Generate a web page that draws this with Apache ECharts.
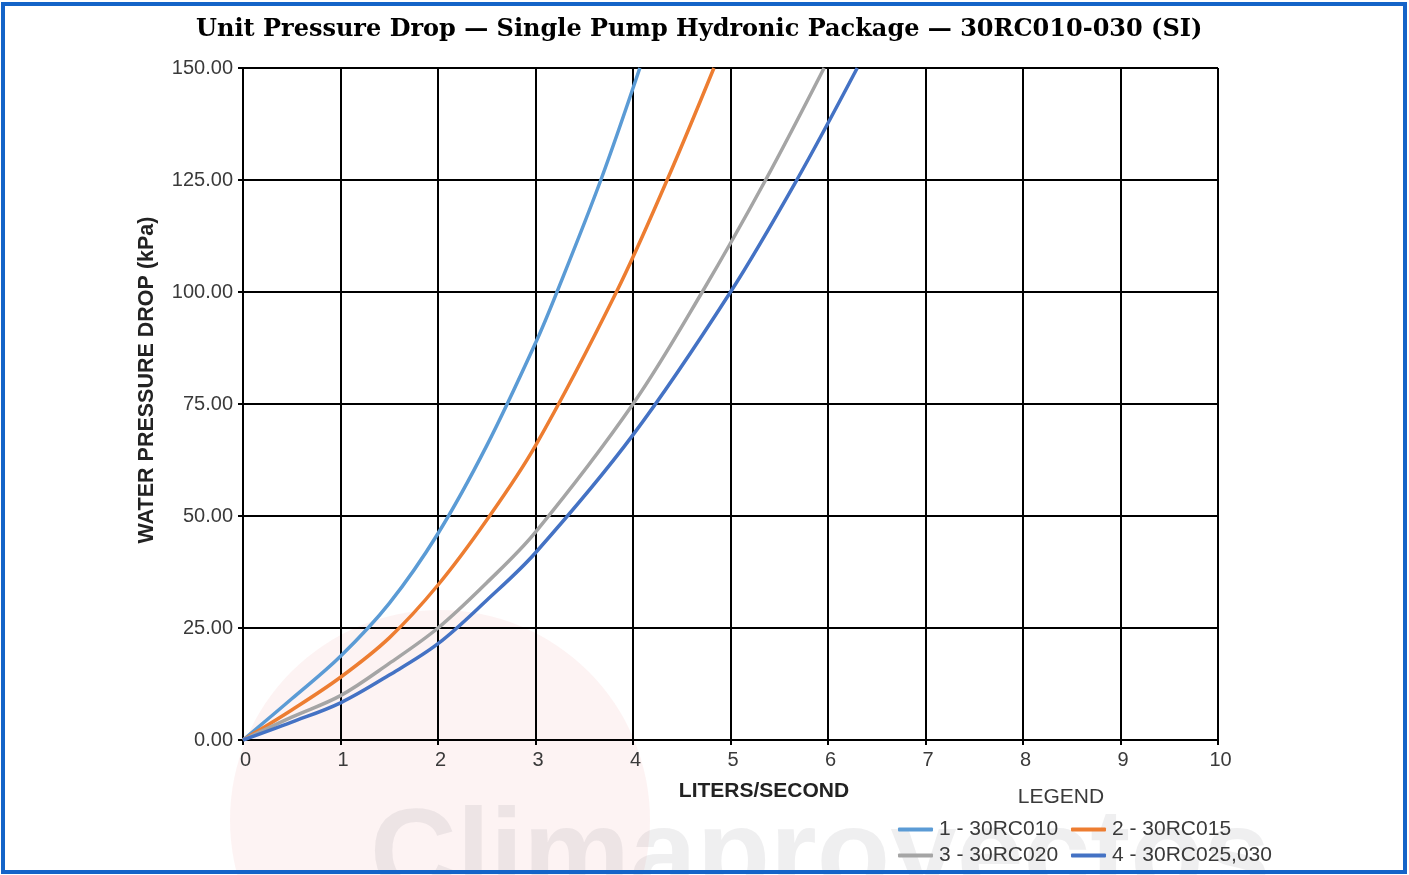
<!DOCTYPE html>
<html>
<head>
<meta charset="utf-8">
<script src="https://cdn.jsdelivr.net/npm/echarts@6/dist/echarts.min.js"></script>
<style>
html,body{margin:0;padding:0;background:#fff;}
#chart{width:1409px;height:875px;}
</style>
</head>
<body>
<div id="chart"></div>
<script>
// ---- Data ----
const seriesNames = ['1 - 30RC010', '2 - 30RC015', '3 - 30RC020', '4 - 30RC025,030'];
// flow (L/s) and pressure drop (kPa) for each unit
const flow1 = [0, 0.5, 1, 1.5, 2, 2.5, 3, 3.22, 3.67, 4.07];
const drop1 = [0, 9.2, 18.7, 30.5, 46.1, 65.7, 88.6, 100, 125, 150];
const flow2 = [0, 0.5, 1, 1.5, 2, 2.5, 3, 3.83, 4.35, 4.83];
const drop2 = [0, 6.7, 14, 22.8, 34.6, 49.1, 65.7, 100, 125, 150];
const flow3 = [0, 0.5, 1, 1.5, 2, 2.5, 3, 4, 4.71, 5.36, 5.96];
const drop3 = [0, 5.1, 9.9, 17.1, 25, 35.1, 46.4, 75, 100, 125, 150];
const flow4 = [0, 0.5, 1, 1.5, 2, 2.5, 3, 4, 5, 5.68, 6.3];
const drop4 = [0, 4, 8.3, 14.5, 21.5, 31.2, 41.8, 68.1, 100, 125, 150];
const xTicks = [0, 1, 2, 3, 4, 5, 6, 7, 8, 9, 10];
const yTicks = [0, 25, 50, 75, 100, 125, 150];
const colors = ['#5B9BD5', '#ED7D31', '#A5A5A5', '#4472C4'];

const flows = [flow1, flow2, flow3, flow4];
const drops = [drop1, drop2, drop3, drop4];

const chart = echarts.init(document.getElementById('chart'));
const textColor = '#3a3a3a';
const font = 'Liberation Sans, Arial, sans-serif';

const series = seriesNames.map((name, i) => ({
  name: name,
  type: 'line',
  smooth: 0.35,
  showSymbol: false,
  symbol: 'none',
  data: flows[i].map((f, k) => [f, drops[i][k]]),
  lineStyle: { color: colors[i], width: 3.5 },
  itemStyle: { color: colors[i] },
  z: 5
}));

const legendPos = [[893, 814], [1066, 814], [893, 840], [1066, 840]];
const legends = seriesNames.map((name, i) => ({
  data: [name],
  left: legendPos[i][0],
  top: legendPos[i][1],
  icon: 'roundRect',
  itemWidth: 35,
  itemHeight: 4,
  itemGap: 0,
  selectedMode: false,
  textStyle: { fontFamily: font, fontSize: 21, color: textColor, padding: [0, 0, 0, 1] }
}));

const option = {
  backgroundColor: '#ffffff',
  animation: false,
  title: {
    text: 'Unit Pressure Drop \u2014 Single Pump Hydronic Package \u2014 30RC010-030 (SI)',
    left: 191,
    top: 13,
    textStyle: { fontFamily: 'DejaVu Serif, serif', fontWeight: 'bold', fontSize: 24, color: '#000' }
  },
  legend: legends,
  grid: { left: 243, right: 191, top: 68, bottom: 135, containLabel: false },
  xAxis: {
    type: 'value',
    min: xTicks[0],
    max: xTicks[xTicks.length - 1],
    interval: 1,
    axisLine: { show: true, lineStyle: { color: '#000', width: 2 } },
    axisTick: { show: true, inside: false, length: 5, lineStyle: { color: '#000', width: 2 } },
    axisLabel: { margin: 10, fontFamily: font, fontSize: 20, color: textColor, padding: [0, 0, 0, 5] },
    splitLine: { show: true, lineStyle: { color: '#000', width: 2 } }
  },
  yAxis: {
    type: 'value',
    min: yTicks[0],
    max: yTicks[yTicks.length - 1],
    interval: 25,
    axisLine: { show: true, lineStyle: { color: '#000', width: 2 } },
    axisTick: { show: true, inside: false, length: 5, lineStyle: { color: '#000', width: 2 } },
    axisLabel: { margin: 10, fontFamily: font, fontSize: 20, color: textColor, formatter: v => v.toFixed(2), padding: [0, 0, 3, 0] },
    splitLine: { show: true, lineStyle: { color: '#000', width: 2 } }
  },
  graphic: [
    // faint watermark
    { type: 'circle', shape: { cx: 440, cy: 820, r: 210 }, style: { fill: 'rgba(225,80,80,0.07)' }, z: -10, silent: true },
    { type: 'text', left: 370, top: 800, style: { text: 'Climaproyectos', font: 'bold 120px Liberation Sans, Arial, sans-serif', fill: 'rgba(120,120,130,0.12)' }, z: -10, silent: true },
    // axis titles
    { type: 'text', x: 147, y: 380, rotation: Math.PI / 2, style: { text: 'WATER PRESSURE DROP (kPa)', font: 'bold 21.5px Liberation Sans, Arial, sans-serif', fill: '#222', align: 'center', verticalAlign: 'middle' } },
    { type: 'text', x: 764, y: 791, style: { text: 'LITERS/SECOND', font: 'bold 21px Liberation Sans, Arial, sans-serif', fill: '#222', align: 'center', verticalAlign: 'middle' } },
    { type: 'text', x: 1061, y: 797, style: { text: 'LEGEND', font: '21px Liberation Sans, Arial, sans-serif', fill: textColor, align: 'center', verticalAlign: 'middle' } },
    // blue frame
    { type: 'rect', shape: { x: 3, y: 4, width: 1402, height: 868 }, style: { fill: 'none', stroke: '#1464C8', lineWidth: 4 }, z: 100, silent: true }
  ],
  series: series
};
chart.setOption(option);
</script>
</body>
</html>
